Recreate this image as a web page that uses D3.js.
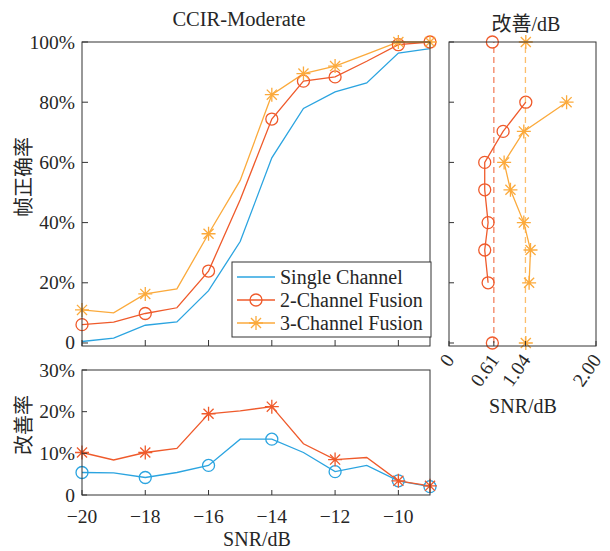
<!DOCTYPE html>
<html>
<head>
<meta charset="utf-8">
<script src="https://cdn.jsdelivr.net/npm/d3@7"></script>
<style>
  body { margin: 0; background: #fff; }
  text { font-family: "Liberation Serif", "Noto Sans CJK SC", serif; fill: #262626; }
</style>
</head>
<body>
<svg id="chart" width="610" height="551"></svg>
<script>
// data
var snr = [-20, -19, -18, -17, -16, -15, -14, -13, -12, -11, -10, -9]
var single = [0.5, 1.6, 5.9, 7.0, 17.4, 33.7, 61.5, 77.9, 83.4, 86.4, 96.3, 97.8]
var fusion2 = [6.1, 6.9, 9.8, 11.7, 23.9, 47.6, 74.4, 87.0, 88.4, 93.6, 99.1, 100]
var fusion3 = [11.0, 10.0, 16.3, 18.0, 36.3, 54.0, 82.5, 89.5, 92.0, 96.0, 100, 100]
var mainMarkSnr = [-20, -18, -16, -14, -13, -12, -10, -9]

var imp2 = [5.4, 5.3, 4.2, 5.4, 7.1, 13.4, 13.4, 10.2, 5.6, 7.1, 3.4, 2.0]
var imp3 = [10.2, 8.4, 10.2, 11.2, 19.5, 20.2, 21.2, 12.3, 8.5, 9.0, 3.4, 2.2]
var impMarkSnr = [-20, -18, -16, -14, -12, -10, -9]

var rateLevels = [80, 70.3, 60, 50.9, 40, 30.9, 20]
var gain2 = [1.045, 0.736, 0.486, 0.486, 0.532, 0.486, 0.532]
var gain3 = [1.6, 1.018, 0.75, 0.836, 1.018, 1.109, 1.09]
var meanGain2 = 0.61
var meanGain3 = 1.04
var endLevels = [0, 100]
var endGain2 = 0.59
var endGain3 = 1.045

var mainYTicks = [0, 20, 40, 60, 80, 100]
var impYTicks = [0, 10, 20, 30]
var snrTicks = [-20, -18, -16, -14, -12, -10]
var gainTicks = [0, 0.61, 1.04, 2.00]
var gainTickLabels = ['0', '0.61', '1.04', '2.00']
var legendNames = ['Single Channel', '2-Channel Fusion', '3-Channel Fusion']

var cBlue = '#2ba4e0'
var cRed = '#ef5a2b'
var cOrange = '#fbaa3c'
var axisColor = '#333'

var svg = d3.select('#chart')

var x = d3.scaleLinear().domain([-20, -9]).range([82, 430])
var y = d3.scaleLinear().domain([-1, 100]).range([346, 42])
var yImp = d3.scaleLinear().domain([0, 30]).range([495, 370])
var xGain = d3.scaleLinear().domain([0, 2]).range([449, 596])

function starPath(r) {
  var a = r * 0.72
  return 'M' + (-r) + ',0H' + r + 'M0,' + (-r) + 'V' + r +
    'M' + (-a) + ',' + (-a) + 'L' + a + ',' + a +
    'M' + (-a) + ',' + a + 'L' + a + ',' + (-a)
}

function box(x0, y0, x1, y1) {
  svg.append('rect')
    .attr('x', x0).attr('y', y0)
    .attr('width', x1 - x0).attr('height', y1 - y0)
    .attr('fill', 'none')
    .attr('stroke', axisColor)
    .attr('stroke-width', 1)
}

function drawLine(g, xs, ys, xsc, ysc, color, dash) {
  var line = d3.line().x(d => xsc(d[0])).y(d => ysc(d[1]))
  g.append('path')
    .datum(d3.zip(xs, ys))
    .attr('d', line)
    .attr('fill', 'none')
    .attr('stroke', color)
    .attr('stroke-width', 1.3)
    .attr('stroke-dasharray', dash || null)
}

function circles(g, pts, color) {
  g.selectAll(null).data(pts).enter().append('circle')
    .attr('cx', d => d[0]).attr('cy', d => d[1])
    .attr('r', 6)
    .attr('fill', 'none')
    .attr('stroke', color)
    .attr('stroke-width', 1.3)
}

function stars(g, pts, color) {
  g.selectAll(null).data(pts).enter().append('path')
    .attr('d', starPath(7))
    .attr('transform', d => 'translate(' + d[0] + ',' + d[1] + ')')
    .attr('fill', 'none')
    .attr('stroke', color)
    .attr('stroke-width', 1.3)
}

function pick(vals, marks) {
  return marks.map(s => [x(s), vals[snr.indexOf(s)]])
}

// ---------- main chart ----------
var gMain = svg.append('g')
drawLine(gMain, snr, single, x, y, cBlue)
drawLine(gMain, snr, fusion2, x, y, cRed)
drawLine(gMain, snr, fusion3, x, y, cOrange)
circles(gMain, pick(fusion2, mainMarkSnr).map(d => [d[0], y(d[1])]), cRed)
stars(gMain, pick(fusion3, mainMarkSnr).map(d => [d[0], y(d[1])]), cOrange)

// ticks (inward)
gMain.selectAll(null).data(snrTicks).enter().append('line')
  .attr('x1', d => x(d)).attr('x2', d => x(d))
  .attr('y1', 346).attr('y2', 340)
  .attr('stroke', axisColor)
gMain.selectAll(null).data(mainYTicks).enter().append('line')
  .attr('x1', 82).attr('x2', 88)
  .attr('y1', d => y(d)).attr('y2', d => y(d))
  .attr('stroke', axisColor)
gMain.selectAll(null).data(mainYTicks).enter().append('text')
  .attr('x', 75).attr('y', d => y(d) + 6.5)
  .attr('text-anchor', 'end')
  .attr('font-size', 19.5)
  .text(d => d === 0 ? '0' : d + '%')
box(82, 42, 430, 346)

svg.append('text')
  .attr('x', 239).attr('y', 26)
  .attr('text-anchor', 'middle')
  .attr('font-size', 20.5)
  .text('CCIR-Moderate')

svg.append('text')
  .attr('transform', 'translate(31,177) rotate(-90)')
  .attr('text-anchor', 'middle')
  .attr('font-size', 20)
  .attr('font-family', '"Noto Sans CJK SC", sans-serif')
  .text('帧正确率')

// legend
var leg = svg.append('g')
leg.append('rect')
  .attr('x', 232).attr('y', 262)
  .attr('width', 199).attr('height', 75)
  .attr('fill', '#fff')
  .attr('stroke', axisColor)
var legColors = [cBlue, cRed, cOrange]
legendNames.forEach(function(name, i) {
  var cy = 277 + i * 23
  leg.append('line')
    .attr('x1', 237).attr('x2', 275)
    .attr('y1', cy).attr('y2', cy)
    .attr('stroke', legColors[i])
    .attr('stroke-width', 1.3)
  if (i === 1) circles(leg, [[256, cy]], cRed)
  if (i === 2) stars(leg, [[256, cy]], cOrange)
  leg.append('text')
    .attr('x', 280).attr('y', cy + 6.5)
    .attr('font-size', 20)
    .text(name)
})

// ---------- improvement chart ----------
var gImp = svg.append('g')
drawLine(gImp, snr, imp2, x, yImp, cBlue)
drawLine(gImp, snr, imp3, x, yImp, cRed)
circles(gImp, pick(imp2, impMarkSnr).map(d => [d[0], yImp(d[1])]), cBlue)
stars(gImp, pick(imp3, impMarkSnr).map(d => [d[0], yImp(d[1])]), cRed)

gImp.selectAll(null).data(snrTicks).enter().append('line')
  .attr('x1', d => x(d)).attr('x2', d => x(d))
  .attr('y1', 495).attr('y2', 490)
  .attr('stroke', axisColor)
gImp.selectAll(null).data(impYTicks).enter().append('line')
  .attr('x1', 82).attr('x2', 87)
  .attr('y1', d => yImp(d)).attr('y2', d => yImp(d))
  .attr('stroke', axisColor)
gImp.selectAll(null).data(impYTicks).enter().append('text')
  .attr('x', 75).attr('y', d => yImp(d) + 6.5)
  .attr('text-anchor', 'end')
  .attr('font-size', 19.5)
  .text(d => d === 0 ? '0' : d + '%')
gImp.selectAll(null).data(snrTicks).enter().append('text')
  .attr('x', d => x(d)).attr('y', 523)
  .attr('text-anchor', 'middle')
  .attr('font-size', 19.5)
  .text(d => '\u2212' + Math.abs(d))
box(82, 370, 430, 495)

svg.append('text')
  .attr('x', 257).attr('y', 546)
  .attr('text-anchor', 'middle')
  .attr('font-size', 20)
  .text('SNR/dB')

svg.append('text')
  .attr('transform', 'translate(31,425) rotate(-90)')
  .attr('text-anchor', 'middle')
  .attr('font-size', 20)
  .attr('font-family', '"Noto Sans CJK SC", sans-serif')
  .text('改善率')

// ---------- SNR gain chart ----------
var gGain = svg.append('g')
drawLine(gGain, [meanGain2, meanGain2], endLevels, xGain, y, cRed, '6,4')
drawLine(gGain, [meanGain3, meanGain3], endLevels, xGain, y, cOrange, '6,4')
gGain.selectAll('path').attr('stroke-opacity', 0.75)
drawLine(gGain, gain2, rateLevels, xGain, y, cRed)
drawLine(gGain, gain3, rateLevels, xGain, y, cOrange)
circles(gGain, d3.zip(gain2, rateLevels).map(d => [xGain(d[0]), y(d[1])]), cRed)
stars(gGain, d3.zip(gain3, rateLevels).map(d => [xGain(d[0]), y(d[1])]), cOrange)
circles(gGain, endLevels.map(l => [xGain(endGain2), y(l)]), cRed)
stars(gGain, endLevels.map(l => [xGain(endGain3), y(l)]), cOrange)

gGain.selectAll(null).data(mainYTicks).enter().append('line')
  .attr('x1', 449).attr('x2', 454)
  .attr('y1', d => y(d)).attr('y2', d => y(d))
  .attr('stroke', axisColor)
gGain.selectAll(null).data(gainTicks).enter().append('line')
  .attr('x1', d => xGain(d)).attr('x2', d => xGain(d))
  .attr('y1', 346).attr('y2', 341)
  .attr('stroke', axisColor)
gGain.selectAll(null).data(gainTicks).enter().append('text')
  .attr('transform', d => 'translate(' + (xGain(d) + 6) + ',360) rotate(-55)')
  .attr('text-anchor', 'end')
  .attr('font-size', 19.5)
  .text((d, i) => gainTickLabels[i])
box(449, 42, 596, 346)

svg.append('text')
  .attr('x', 523).attr('y', 413)
  .attr('text-anchor', 'middle')
  .attr('font-size', 20)
  .text('SNR/dB')

svg.append('text')
  .attr('x', 526).attr('y', 31)
  .attr('text-anchor', 'middle')
  .attr('font-size', 20)
  .text('改善/dB')
</script>
</body>
</html>
